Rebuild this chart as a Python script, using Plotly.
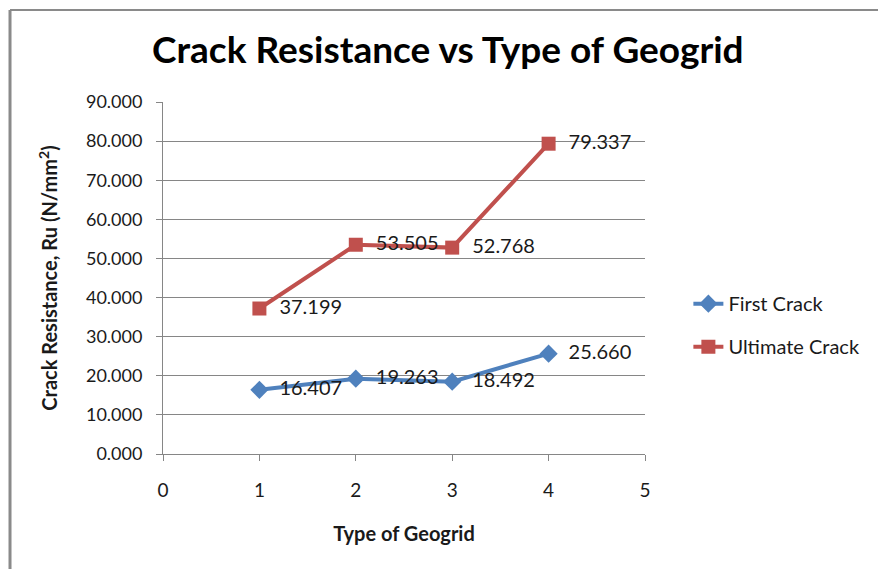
import plotly.graph_objects as go

# Geogrid types and measured crack resistance (N/mm^2)
geogrid_type = [1, 2, 3, 4]
first_crack = [16.407, 19.263, 18.492, 25.660]
ultimate_crack = [37.199, 53.505, 52.768, 79.337]

y_ticks = [0, 10, 20, 30, 40, 50, 60, 70, 80, 90]
x_ticks = [0, 1, 2, 3, 4, 5]

FONT = "Lato"
GRID = "#868686"
TXT = "#1a1a1a"
FS = 20

fig = go.Figure()

fig.add_trace(go.Scatter(
    x=geogrid_type, y=first_crack, name="First Crack",
    mode="lines+markers+text", legendgroup="a",
    line=dict(color="#4F81BD", width=4),
    marker=dict(symbol="diamond", size=14, color="#4F81BD"),
    texttemplate="  %{y:.3f}", textposition="middle right",
    textfont=dict(family=FONT, size=FS, color=TXT),
))
fig.add_trace(go.Scatter(
    x=geogrid_type, y=ultimate_crack, name="Ultimate Crack",
    mode="lines+markers+text", legendgroup="b",
    line=dict(color="#C0504D", width=4),
    marker=dict(symbol="square", size=14, color="#C0504D"),
    texttemplate="  %{y:.3f}", textposition="middle right",
    textfont=dict(family=FONT, size=FS, color=TXT),
))

# outer chart frame (top and left edges visible)
fig.add_shape(type="line", xref="paper", yref="paper",
              x0=-0.3174, x1=2, y0=1.2614, y1=1.2614,
              line=dict(color="#8a8a8a", width=2))
fig.add_shape(type="line", xref="paper", yref="paper",
              x0=-0.3174, x1=-0.3174, y0=-1, y1=1.2614,
              line=dict(color="#8a8a8a", width=3))

fig.update_layout(
    width=878, height=569,
    margin=dict(l=163, r=233, t=102, b=115),
    paper_bgcolor="white", plot_bgcolor="white",
    font=dict(family=FONT, color="#000"),
    title=dict(text="<b>Crack Resistance vs Type of Geogrid</b>",
               x=0.591, xref="paper", xanchor="center",
               y=0.912, yanchor="middle",
               font=dict(family=FONT, size=37, color="#000")),
    showlegend=True,
    legend=dict(x=1.09, y=0.366, xanchor="left", yanchor="middle",
                font=dict(family=FONT, size=FS, color=TXT),
                tracegroupgap=14, bgcolor="rgba(0,0,0,0)"),
    xaxis=dict(range=[0, 5], tickvals=x_ticks, ticks="outside", ticklen=6,
               tickcolor=GRID, showline=True, linecolor=GRID, linewidth=1,
               showgrid=False, zeroline=False, ticklabelstandoff=13,
               tickfont=dict(family=FONT, size=19, color=TXT),
               title=dict(text="<b>Type of Geogrid</b>", standoff=27,
                          font=dict(family=FONT, size=FS, color=TXT))),
    yaxis=dict(range=[0, 90], tickvals=y_ticks, tickformat=".3f",
               ticks="outside", ticklen=6, tickcolor=GRID,
               showline=True, linecolor=GRID, linewidth=1,
               showgrid=True, gridcolor=GRID, gridwidth=1, zeroline=False,
               ticklabelstandoff=10,
               tickfont=dict(family=FONT, size=18, color=TXT),
               title=dict(text="<b>Crack Resistance, Ru (N/mm<sup>2</sup>)</b>",
                          standoff=22,
                          font=dict(family=FONT, size=FS, color=TXT))),
)

fig.write_html("out.html")
